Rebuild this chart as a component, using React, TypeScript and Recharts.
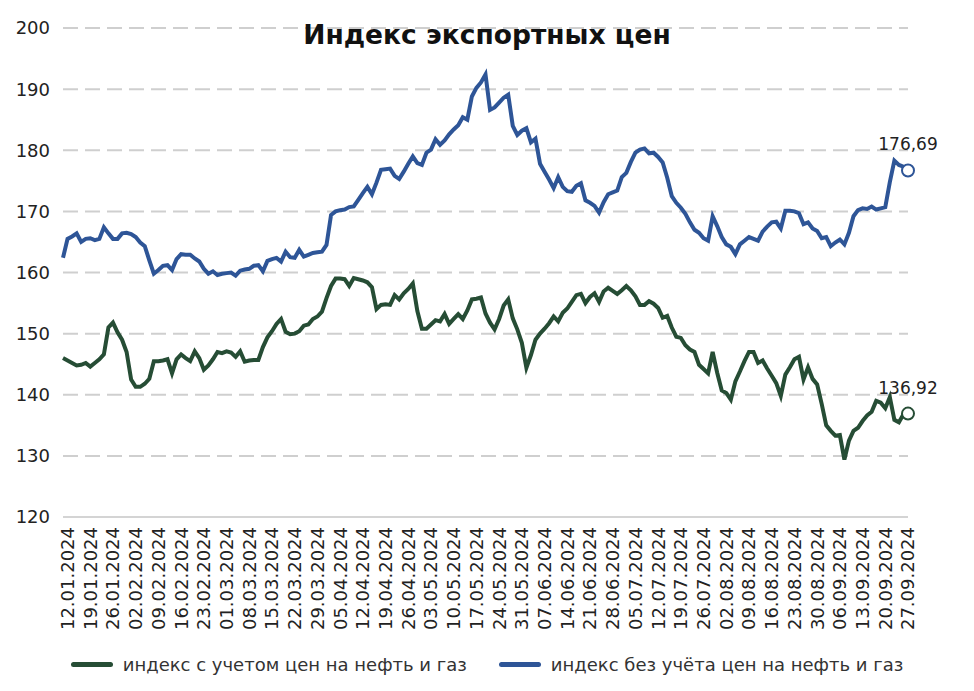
import React from 'react';
import { LineChart, Line, XAxis, YAxis, CartesianGrid, Legend } from 'recharts';

const GREEN = '#264d35';
const BLUE = '#2e5597';
const FONT = '"DejaVu Sans", sans-serif';

const title = 'Индекс экспортных цен';
const greenName = 'индекс с учетом цен на нефть и газ';
const blueName = 'индекс без учёта цен на нефть и газ';

// Weekly tick labels (Fridays)
const tickLabels = [
  '12.01.2024', '19.01.2024', '26.01.2024', '02.02.2024', '09.02.2024', '16.02.2024', '23.02.2024',
  '01.03.2024', '08.03.2024', '15.03.2024', '22.03.2024', '29.03.2024', '05.04.2024', '12.04.2024',
  '19.04.2024', '26.04.2024', '03.05.2024', '10.05.2024', '17.05.2024', '24.05.2024', '31.05.2024',
  '07.06.2024', '14.06.2024', '21.06.2024', '28.06.2024', '05.07.2024', '12.07.2024', '19.07.2024',
  '26.07.2024', '02.08.2024', '09.08.2024', '16.08.2024', '23.08.2024', '30.08.2024', '06.09.2024',
  '13.09.2024', '20.09.2024', '27.09.2024',
];

const yTicks = [120, 130, 140, 150, 160, 170, 180, 190, 200];

// Business days 11.01.2024 .. 27.09.2024 (categories)
const dates: string[] = [];
for (let t = Date.UTC(2024, 0, 11); t <= Date.UTC(2024, 8, 27); t += 86400000) {
  const d = new Date(t);
  const wd = d.getUTCDay();
  if (wd === 0 || wd === 6) continue;
  const dd = String(d.getUTCDate()).padStart(2, '0');
  const mm = String(d.getUTCMonth() + 1).padStart(2, '0');
  dates.push(`${dd}.${mm}.${d.getUTCFullYear()}`);
}

const withoutOilGas = [
  162.4, 165.5, 165.9, 166.4, 165.0, 165.5, 165.6, 165.3, 165.5, 167.4,
  166.4, 165.5, 165.5, 166.4, 166.5, 166.3, 165.8, 164.9, 164.3, 162.0,
  159.8, 160.4, 161.1, 161.2, 160.4, 162.2, 163.0, 162.9, 162.9, 162.3,
  161.8, 160.6, 159.8, 160.2, 159.6, 159.8, 159.9, 160.0, 159.5, 160.3,
  160.5, 160.6, 161.1, 161.2, 160.2, 161.9, 162.2, 162.4, 161.8, 163.4,
  162.5, 162.4, 163.7, 162.6, 162.9, 163.2, 163.3, 163.4, 164.5, 169.4,
  170.0, 170.2, 170.3, 170.7, 170.8, 171.9, 173.0, 174.0, 172.8, 174.7,
  176.8, 176.9, 177.0, 175.8, 175.3, 176.5, 177.8, 179.0, 177.9, 177.6,
  179.6, 180.1, 181.8, 180.9, 181.6, 182.6, 183.4, 184.1, 185.4, 185.0,
  188.8, 190.2, 191.1, 192.4, 186.6, 187.0, 187.8, 188.6, 189.1, 184.0,
  182.5, 183.2, 183.6, 181.3, 181.9, 177.8, 176.5, 175.2, 173.8, 175.6,
  174.0, 173.3, 173.2, 174.2, 174.6, 171.8, 171.4, 170.9, 169.8, 171.5,
  172.8, 173.1, 173.4, 175.6, 176.3, 178.1, 179.6, 180.1, 180.3, 179.5,
  179.6, 178.9, 178.0, 175.5, 172.5, 171.4, 170.6, 169.6, 168.2, 167.0,
  166.5, 165.6, 165.2, 169.2, 167.6, 165.8, 164.6, 164.2, 163.0, 164.6,
  165.2, 165.8, 165.5, 165.2, 166.7, 167.5, 168.2, 168.3, 167.2, 170.1,
  170.1, 170.0, 169.7, 167.9, 168.2, 167.2, 166.8, 165.6, 165.8, 164.3,
  164.9, 165.4, 164.6, 166.5, 169.2, 170.2, 170.5, 170.4, 170.8, 170.3,
  170.5, 170.7, 174.8, 178.3, 177.6, 177.3, 176.69,
];

const withOilGas = [
  146.0, 145.6, 145.2, 144.8, 144.9, 145.2, 144.6, 145.2, 145.8, 146.6,
  151.0, 151.8, 150.2, 149.0, 147.0, 142.5, 141.3, 141.3, 141.8, 142.6,
  145.5, 145.5, 145.6, 145.8, 143.5, 145.8, 146.6, 146.0, 145.5, 147.1,
  146.0, 144.1, 144.8, 145.8, 147.0, 146.8, 147.1, 146.9, 146.2, 147.1,
  145.4, 145.6, 145.7, 145.7, 147.8, 149.4, 150.4, 151.6, 152.4, 150.3,
  149.9, 150.0, 150.4, 151.3, 151.5, 152.4, 152.8, 153.6, 155.8, 157.8,
  159.0, 159.0, 158.9, 157.8, 159.1, 158.9, 158.7, 158.4, 157.6, 154.0,
  154.7, 154.8, 154.7, 156.3, 155.6, 156.6, 157.3, 158.2, 153.7, 150.8,
  150.8, 151.5, 152.2, 152.0, 153.2, 151.6, 152.4, 153.2, 152.4, 153.8,
  155.6, 155.7, 155.9, 153.3, 151.8, 150.7, 152.4, 154.6, 155.6, 152.5,
  150.7, 148.5, 144.4, 146.5, 149.0, 150.0, 150.8, 151.7, 152.8, 152.0,
  153.4, 154.1, 155.2, 156.3, 156.5, 155.0, 156.0, 156.6, 155.2, 156.9,
  157.5, 157.0, 156.5, 157.1, 157.8, 157.1, 156.1, 154.7, 154.7, 155.3,
  154.9, 154.2, 152.6, 152.9, 151.0, 149.5, 149.3, 148.1, 147.4, 147.0,
  144.9, 144.2, 143.5, 147.0, 143.6, 140.7, 140.3, 139.2, 142.2, 143.8,
  145.5, 147.0, 147.0, 145.2, 145.6, 144.3, 143.1, 141.9, 139.8, 143.3,
  144.5, 145.8, 146.2, 142.5, 144.5, 142.6, 141.7, 138.5, 135.0, 134.1,
  133.3, 133.4, 129.4, 132.5, 134.1, 134.6, 135.7, 136.6, 137.2, 139.0,
  138.7, 137.8, 139.6, 135.9, 135.5, 136.8, 136.92,
];

const data = dates.map((date, i) => ({
  date,
  green: withOilGas[i],
  blue: withoutOilGas[i],
}));

const LAST = data.length - 1;

const fmt = (v: number) => v.toFixed(2).replace('.', ',');

const XTick = (props: any) => {
  const { x, y, payload } = props;
  return (
    <text
      x={x}
      y={y}
      transform={`rotate(-90, ${x}, ${y})`}
      textAnchor="end"
      dy="0.36em"
      fontSize={18}
      fontFamily={FONT}
      fill="#222"
    >
      {payload.value}
    </text>
  );
};

const makeDot = (color: string) => (props: any) => {
  const { cx, cy, index } = props;
  if (index !== LAST) return <g key={`d${index}`} />;
  return <circle key={`d${index}`} cx={cx} cy={cy} r={6} fill="#fff" stroke={color} strokeWidth={2} />;
};

const makeLabel = () => (props: any) => {
  const { x, y, index, value } = props;
  if (index !== LAST) return <g key={`l${index}`} />;
  return (
    <text key={`l${index}`} x={x} y={y - 20} textAnchor="middle" fontSize={17} fontFamily={FONT} fill="#222">
      {fmt(Number(value))}
    </text>
  );
};

const renderLegend = () => (
  <div
    style={{
      display: 'flex',
      justifyContent: 'center',
      alignItems: 'center',
      gap: 32,
      fontFamily: FONT,
      fontSize: 18,
      color: '#333',
      height: 34,
    }}
  >
    <span style={{ display: 'flex', alignItems: 'center' }}>
      <span style={{ display: 'inline-block', width: 42, height: 5, borderRadius: 3, background: GREEN, marginRight: 10 }} />
      {greenName}
    </span>
    <span style={{ display: 'flex', alignItems: 'center' }}>
      <span style={{ display: 'inline-block', width: 42, height: 5, borderRadius: 3, background: BLUE, marginRight: 10 }} />
      {blueName}
    </span>
  </div>
);

export default function App() {
  return (
    <div style={{ position: 'absolute', left: 0, top: 0, width: 974, height: 691, background: '#fff' }}>
      <div
        style={{
          position: 'absolute',
          top: 19,
          left: 0,
          width: 974,
          textAlign: 'center',
          fontFamily: FONT,
          fontWeight: 'bold',
          fontSize: 26.5,
          color: '#111',
          zIndex: 2,
        }}
      >
        {title}
      </div>
      <LineChart width={974} height={691} data={data} margin={{ top: 28, right: 66, bottom: 10, left: 0 }}>
        <CartesianGrid vertical={false} stroke="#cfcfcf" strokeWidth={2} strokeDasharray="15 7" />
        <XAxis
          dataKey="date"
          ticks={tickLabels}
          interval={0}
          tick={<XTick />}
          tickLine={false}
          tickSize={0}
          tickMargin={10}
          height={130}
          axisLine={{ stroke: '#d4d4d4', strokeWidth: 2 }}
        />
        <YAxis
          domain={[120, 200]}
          ticks={yTicks}
          axisLine={false}
          tickLine={false}
          tickSize={0}
          tickMargin={13}
          width={63}
          tick={{ fontSize: 18, fontFamily: FONT, fill: '#222' }}
        />
        <Legend verticalAlign="bottom" height={34} content={renderLegend} wrapperStyle={{ left: 0, width: 974 }} />
        <Line
          type="linear"
          dataKey="green"
          name={greenName}
          stroke={GREEN}
          strokeWidth={4}
          dot={makeDot(GREEN)}
          activeDot={false}
          label={makeLabel()}
          isAnimationActive={false}
        />
        <Line
          type="linear"
          dataKey="blue"
          name={blueName}
          stroke={BLUE}
          strokeWidth={4}
          dot={makeDot(BLUE)}
          activeDot={false}
          label={makeLabel()}
          isAnimationActive={false}
        />
      </LineChart>
    </div>
  );
}
